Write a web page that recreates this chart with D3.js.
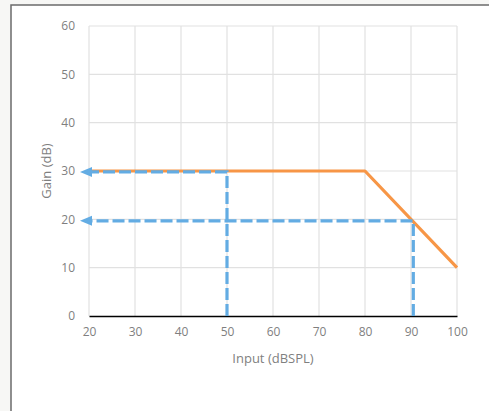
<!DOCTYPE html>
<html><head><meta charset="utf-8">
<script src="https://cdn.jsdelivr.net/npm/d3@7"></script>
<style>
html,body{margin:0;padding:0;background:#f7f7f5;}
svg{display:block;}
</style></head>
<body>
<svg id="c" width="489" height="411"></svg>
<script>
const xTicks = [20,30,40,50,60,70,80,90,100];
const yTicks = [0,10,20,30,40,50,60];
const gainX = [20,80,100];
const gainY = [30,30,10];
const guide1X = [50,50,20];
const guide1Y = [0,29.8,29.8];
const guide2X = [90.5,90.5,20];
const guide2Y = [0,19.7,19.7];
const xTitle = "Input (dBSPL)";
const yTitle = "Gain (dB)";

const svg = d3.select("#c");
svg.append("rect").attr("x",11).attr("y",5).attr("width",490).attr("height",420)
  .attr("fill","#fff").attr("stroke","#6b6b6b").attr("stroke-width",1.5);

const x = d3.scaleLinear().domain([20,100]).range([89,457]);
const y = d3.scaleLinear().domain([0,60]).range([316,26]);
const font = "'Open Sans', 'Liberation Sans', sans-serif";

// grid
const g = svg.append("g");
g.selectAll(".vg").data(xTicks).join("line")
  .attr("x1",d=>x(d)).attr("x2",d=>x(d)).attr("y1",y(60)).attr("y2",y(0))
  .attr("stroke","#e1e1e1").attr("stroke-width",1.2);
g.selectAll(".hg").data(yTicks.filter(d=>d>0)).join("line")
  .attr("x1",x(20)).attr("x2",x(100)).attr("y1",d=>y(d)).attr("y2",d=>y(d))
  .attr("stroke","#e1e1e1").attr("stroke-width",1.2);

// axes
const xa = svg.append("g").attr("transform",`translate(0,${y(0)})`)
  .call(d3.axisBottom(x).tickValues(xTicks).tickSize(0).tickPadding(11));
xa.select(".domain").attr("stroke","#000").attr("stroke-width",1.5);
xa.selectAll("text").attr("fill","#7f7f7f").style("font-family",font).style("font-size","12px");
const ya = svg.append("g").attr("transform",`translate(${x(20)},0)`)
  .call(d3.axisLeft(y).tickValues(yTicks).tickSize(0).tickPadding(14));
ya.select(".domain").remove();
ya.selectAll("text").attr("fill","#7f7f7f").style("font-family",font).style("font-size","12px");

svg.append("text").attr("x",(x(20)+x(100))/2).attr("y",363).attr("text-anchor","middle")
  .attr("fill","#7f7f7f").style("font-family",font).style("font-size","13px").text(xTitle);
svg.append("text").attr("transform",`translate(51,${y(30)}) rotate(-90)`).attr("text-anchor","middle")
  .attr("fill","#7f7f7f").style("font-family",font).style("font-size","13px").text(yTitle);

const line = d3.line().x(d=>x(d[0])).y(d=>y(d[1]));
const blue = "#63ace3";
// orange gain curve
svg.append("path").datum(gainX.map((v,i)=>[v,gainY[i]])).attr("d",line)
  .attr("fill","none").attr("stroke","#f79646").attr("stroke-width",3.2).attr("stroke-linejoin","round");

// blue guides
[[guide1X,guide1Y],[guide2X,guide2Y]].forEach(([gx,gy])=>{
  const pts = gx.map((v,i)=>[v,gy[i]]);
  svg.append("path").datum(pts).attr("d",line).attr("fill","none")
    .attr("stroke",blue).attr("stroke-width",3.2).attr("stroke-dasharray","12,4");
  const end = pts[pts.length-1];
  const ex = x(end[0]), ey = y(end[1]);
  svg.append("path").attr("d",`M${ex-9},${ey} L${ex+3},${ey-5} L${ex+3},${ey+5} Z`).attr("fill",blue);
});
</script>
</body></html>
